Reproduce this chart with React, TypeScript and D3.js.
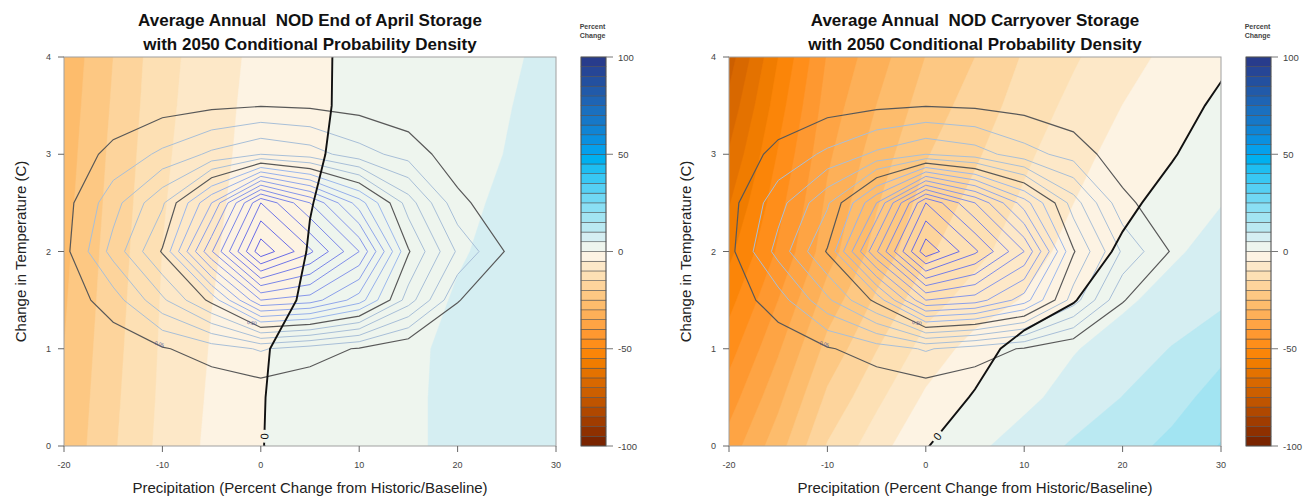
import React from "react";
import * as d3 from "d3";

// response-surface grid: precipitation change (%) by temperature change (C)
const precipGrid = [-20, -15, -10, -5, 0, 5, 10, 15, 20, 25, 30];
const tempGrid = [0, 0.5, 1, 1.5, 2, 2.5, 3, 3.5, 4];

// percent change in NOD end-of-April storage, one row per tempGrid value
const aprilStorage = [
  [-23.8, -15.6, -8.6, -3.9, -0.1, 1.4, 2.9, 4.6, 5.6, 6.6, 7.6],
  [-24.4, -16.1, -9.0, -4.3, -0.15, 1.4, 2.8, 4.6, 5.6, 6.6, 7.5],
  [-25.0, -16.6, -9.3, -4.7, -0.3, 1.3, 2.8, 4.5, 5.6, 6.5, 7.4],
  [-25.6, -17.1, -9.6, -5.1, -2.1, 0.8, 2.1, 3.7, 5.3, 6.2, 7.0],
  [-26.2, -17.6, -9.96, -5.5, -2.5, 0.2, 1.7, 3.2, 4.7, 5.9, 6.8],
  [-26.8, -18.2, -10.4, -5.9, -2.9, -0.1, 1.35, 2.75, 4.2, 5.6, 6.6],
  [-27.4, -18.75, -10.9, -6.35, -3.2, -0.5, 1.1, 2.4, 3.8, 5.1, 6.3],
  [-28.0, -19.4, -11.4, -6.7, -3.4, -0.75, 0.95, 2.2, 3.55, 4.85, 6.1],
  [-28.6, -20.0, -11.8, -7.1, -3.7, -1.0, 1.2, 2.05, 3.3, 4.5, 5.9],
];

// percent change in NOD carryover storage
const carryoverStorage = [
  [-37.8, -27.1, -14.6, -7.2, -0.3, 3.9, 7.4, 10.6, 13.2, 16.2, 20.3],
  [-42.5, -31.4, -19.0, -11.2, -4.2, 0.6, 3.6, 7.2, 10.1, 13.2, 17.0],
  [-47.1, -35.7, -23.4, -15.2, -8.1, -3.0, 2.8, 4.6, 7.5, 10.2, 13.75],
  [-51.75, -40.0, -27.8, -19.2, -12.0, -8.0, -4.6, -0.3, 4.0, 7.1, 9.0],
  [-56.4, -44.25, -32.2, -23.2, -15.9, -11.4, -7.4, -3.2, 0.9, 4.1, 7.2],
  [-60.4, -46.9, -34.05, -25.45, -18.15, -13.55, -9.2, -5.05, -1.3, 2.0, 4.8],
  [-64.5, -49.6, -35.9, -27.7, -20.4, -15.7, -10.95, -6.9, -3.0, -0.4, 3.1],
  [-68.5, -52.3, -37.75, -29.95, -22.65, -17.85, -12.7, -8.75, -4.95, -2.05, 1.0],
  [-72.5, -55.0, -39.6, -32.2, -24.9, -20.0, -14.5, -10.6, -6.9, -3.7, -1.05],
];

// 2050 conditional probability density (relative units)
const densityGrid = [
  [0, 0, 0.02, 0.05, 0.08, 0.05, 0.02, 0, 0, 0, 0],
  [0, 0, 0.05, 0.15, 0.28, 0.15, 0.05, 0, 0, 0, 0],
  [0.1, 0.4, 0.9, 1.5, 2.1, 1.5, 0.9, 0.1, 0.1, 0.05, 0],
  [0.4, 1.5, 3.8, 6.3, 11.0, 10.5, 8.5, 4.5, 1.05, 0.2, 0.05],
  [0.68, 3.37, 6.1, 11.9, 17.7, 15.2, 12.0, 6.1, 2.85, 0.9, 0.2],
  [0.6, 2.6, 4.83, 9.0, 15.0, 12.0, 8.5, 4.5, 1.3, 0.2, 0.05],
  [0.3, 1.3, 2.2, 3.2, 4.0, 3.5, 2.4, 1.6, 0.35, 0.1, 0],
  [0.1, 0.3, 0.6, 0.8, 0.95, 0.85, 0.65, 0.3, 0.1, 0, 0],
  [0, 0, 0.1, 0.15, 0.2, 0.15, 0.1, 0, 0, 0, 0],
];
const densityLevels = [1, 2, 3, 4, 5, 6, 7, 8, 9, 10, 11, 12, 13, 14, 15, 16, 17];
const densityDark = [1, 6];
const densityLabels = [
  { text: "0.05", x: -10.3, y: 1.05 },
  { text: "0.50", x: -0.9, y: 1.27 },
];

const precipTicks = [-20, -10, 0, 10, 20, 30];
const tempTicks = [0, 1, 2, 3, 4];
const changeTicks = [100, 50, 0, -50, -100];
const changeBreaks = d3.range(-100, 100, 5);

const panels = [
  {
    id: "april",
    title: ["Average Annual  NOD End of April Storage", "with 2050 Conditional Probability Density"],
    values: aprilStorage,
  },
  {
    id: "carry",
    title: ["Average Annual  NOD Carryover Storage", "with 2050 Conditional Probability Density"],
    values: carryoverStorage,
  },
];

// colour for each 5% band, from -100 upward
const palette = [
  "#7a2400", "#8e3000", "#a03c00", "#b04800", "#bf5400", "#cc5f00", "#d86800", "#e47200",
  "#f07c00", "#fb8508", "#ff8e1a", "#fe9830", "#fea444", "#fdb058", "#fdbc6c", "#fdc883",
  "#fdd49c", "#fde0b4", "#fde8c8", "#fdf3e3", "#eef5ee", "#d5eef2", "#bae9f2", "#a2e4f2",
  "#8adff4", "#70d8f4", "#55d0f4", "#38c8f4", "#1ebef2", "#00b0f0", "#05a0ec", "#0a90e0",
  "#1084d4", "#1678c8", "#1a70bf", "#1e64b4", "#215aa9", "#23509f", "#264696", "#283c8c",
];

const W = 1314;
const H = 499;
const plot = { left: 64, right: 556, top: 57, bottom: 446 };
const shift = 665;
const barX = 581;
const barW = 25;
const font = "Liberation Sans, Arial, Helvetica, sans-serif";

const blueLine = d3.interpolateRgb("#9cb8ec", "#6464e6");

function gridPath(x, y) {
  const sx = precipGrid[1] - precipGrid[0];
  const sy = tempGrid[1] - tempGrid[0];
  return d3.geoPath(
    d3.geoTransform({
      point(gx, gy) {
        this.stream.point(
          x(precipGrid[0] + (gx - 0.5) * sx),
          y(tempGrid[0] + (gy - 0.5) * sy)
        );
      },
    })
  );
}

function zeroCrossing(row) {
  for (let i = 0; i < row.length - 1; i++) {
    if (row[i] < 0 && row[i + 1] >= 0) {
      return precipGrid[i] + (-row[i] / (row[i + 1] - row[i])) * (precipGrid[i + 1] - precipGrid[i]);
    }
  }
  return precipGrid[0];
}

function Panel({ p, k }) {
  const dx = k * shift;
  const x = d3.scaleLinear().domain([-20, 30]).range([plot.left + dx, plot.right + dx]);
  const y = d3.scaleLinear().domain([0, 4]).range([plot.bottom, plot.top]);
  const nx = precipGrid.length;
  const ny = tempGrid.length;
  const path = gridPath(x, y);
  const flat = p.values.flat();
  const bands = d3.contours().size([nx, ny]).thresholds(changeBreaks)(flat);
  const zero = d3.contours().size([nx, ny]).thresholds([0])(flat)[0];
  const dens = d3.contours().size([nx, ny]).thresholds(densityLevels)(densityGrid.flat());

  // label position on the zero line just above the bottom axis
  const x0 = zeroCrossing(p.values[0]);
  const x1 = zeroCrossing(p.values[1]);
  const t = 0.2;
  const lx = x(x0 + (x1 - x0) * t);
  const ly = y(tempGrid[0] + (tempGrid[1] - tempGrid[0]) * t);
  const ang = (Math.atan2(y(tempGrid[1]) - y(tempGrid[0]), x(x1) - x(x0)) * 180) / Math.PI;

  const cb = d3.scaleLinear().domain([-100, 100]).range([plot.bottom, plot.top]);
  const midX = (plot.left + plot.right) / 2 + dx;
  const bx = barX + dx;

  return (
    <g>
      <defs>
        <clipPath id={`clip-${p.id}`}>
          <rect x={plot.left + dx} y={plot.top} width={plot.right - plot.left} height={plot.bottom - plot.top} />
        </clipPath>
        <mask id={`mask-${p.id}`} maskUnits="userSpaceOnUse" x={0} y={0} width={W} height={H}>
          <rect x={0} y={0} width={W} height={H} fill="white" />
          <circle cx={lx} cy={ly} r={6.5} fill="black" />
        </mask>
      </defs>

      <g clipPath={`url(#clip-${p.id})`}>
        {bands.map((b, i) => (
          <path key={i} d={path(b)} fill={palette[i]} stroke={palette[i]} strokeWidth={0.4} />
        ))}
        {dens.map((c) =>
          densityDark.includes(c.value) ? null : (
            <path
              key={c.value}
              d={path(c)}
              fill="none"
              stroke={c.value < 6 ? "#a8bfd8" : blueLine((c.value - 7) / 10)}
              strokeWidth={1}
            />
          )
        )}
        {dens
          .filter((c) => densityDark.includes(c.value))
          .map((c) => (
            <path key={c.value} d={path(c)} fill="none" stroke="#585858" strokeWidth={1.2} />
          ))}
        <path d={path(zero)} fill="none" stroke="#111" strokeWidth={1.9} mask={`url(#mask-${p.id})`} />
      </g>

      {densityLabels.map((d) => (
        <text
          key={d.text}
          x={x(d.x)}
          y={y(d.y)}
          fontSize={5}
          fontFamily={font}
          fill="#5b5f9a"
          textAnchor="middle"
          dominantBaseline="central"
          transform={`rotate(${d.text === "0.05" ? 18 : 5}, ${x(d.x)}, ${y(d.y)})`}
        >
          {d.text}
        </text>
      ))}

      <text
        x={lx}
        y={ly}
        fontSize={11}
        fontFamily={font}
        fill="#111"
        textAnchor="middle"
        dominantBaseline="central"
        transform={`rotate(${ang}, ${lx}, ${ly})`}
      >
        0
      </text>

      <rect
        x={plot.left + dx}
        y={plot.top}
        width={plot.right - plot.left}
        height={plot.bottom - plot.top}
        fill="none"
        stroke="#a0a0a0"
        strokeWidth={1}
      />

      {/* axes */}
      {tempTicks.map((v) => (
        <g key={v}>
          <line x1={plot.left + dx - 6} x2={plot.left + dx} y1={y(v)} y2={y(v)} stroke="#666" />
          <text
            x={plot.left + dx - 13}
            y={y(v)}
            fontSize={9}
            fontFamily={font}
            fill="#444"
            textAnchor="end"
            dominantBaseline="central"
          >
            {v}
          </text>
        </g>
      ))}
      {precipTicks.map((v) => (
        <g key={v}>
          <line x1={x(v)} x2={x(v)} y1={plot.bottom} y2={plot.bottom + 6} stroke="#666" />
          <text x={x(v)} y={468} fontSize={9} fontFamily={font} fill="#444" textAnchor="middle">
            {v}
          </text>
        </g>
      ))}
      <text
        transform={`translate(${20 + dx}, ${(plot.top + plot.bottom) / 2}) rotate(-90)`}
        fontSize={15}
        fontFamily={font}
        fill="#222"
        textAnchor="middle"
        dominantBaseline="central"
      >
        Change in Temperature (C)
      </text>
      <text x={midX} y={493} fontSize={15} fontFamily={font} fill="#222" textAnchor="middle">
        Precipitation (Percent Change from Historic/Baseline)
      </text>

      {p.title.map((line, i) => (
        <text
          key={i}
          x={midX}
          y={26 + i * 24}
          fontSize={17}
          fontWeight="bold"
          fontFamily={font}
          fill="#111"
          textAnchor="middle"
          style={{ whiteSpace: "pre" }}
        >
          {line}
        </text>
      ))}

      {/* colour bar */}
      <text x={bx + barW / 2 - 1} y={29} fontSize={7} fontWeight="bold" fontFamily={font} fill="#444" textAnchor="middle">
        Percent
      </text>
      <text x={bx + barW / 2 - 1} y={38} fontSize={7} fontWeight="bold" fontFamily={font} fill="#444" textAnchor="middle">
        Change
      </text>
      {changeBreaks.map((v, i) => (
        <rect
          key={v}
          x={bx}
          y={cb(v + 5)}
          width={barW}
          height={cb(v) - cb(v + 5)}
          fill={palette[i]}
          stroke="#4a4a4a"
          strokeWidth={0.5}
        />
      ))}
      <rect x={bx} y={plot.top} width={barW} height={plot.bottom - plot.top} fill="none" stroke="#555" strokeWidth={0.8} />
      {changeTicks.map((v) => (
        <g key={v}>
          <line x1={bx + barW} x2={bx + barW + 7} y1={cb(v)} y2={cb(v)} stroke="#777" />
          <text
            x={bx + barW + 12}
            y={cb(v)}
            fontSize={9.5}
            fontFamily={font}
            fill="#444"
            dominantBaseline="central"
          >
            {v}
          </text>
        </g>
      ))}
    </g>
  );
}

export default function App() {
  return (
    <svg
      width={W}
      height={H}
      viewBox={`0 0 ${W} ${H}`}
      style={{ position: "absolute", left: 0, top: 0, background: "#fff" }}
    >
      <rect x={0} y={0} width={W} height={H} fill="#fff" />
      {panels.map((p, k) => (
        <Panel key={p.id} p={p} k={k} />
      ))}
    </svg>
  );
}
